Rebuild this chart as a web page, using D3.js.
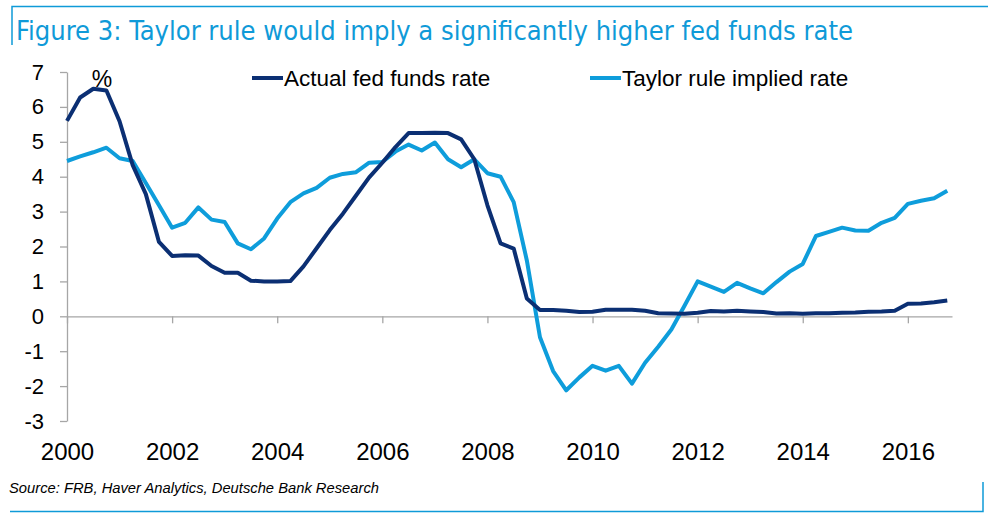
<!DOCTYPE html>
<html lang="en">
<head>
<meta charset="UTF-8">
<title>Taylor rule vs fed funds rate</title>
<script src="https://d3js.org/d3.v7.min.js"></script>
<style>
    body { margin: 0; background: #fff; }
    svg { display: block; font-family: "Liberation Sans", Arial, sans-serif; }
    .axis path, .axis line { stroke: #a6a6a6; stroke-width: 1.3px; }
    .axis text { fill: #000; }
    .line { fill: none; stroke-width: 4px; stroke-linejoin: round; }
</style>
</head>
<body>
<svg id="chart" width="988" height="523"></svg>
<script>
// quarterly observations, 2000Q1 .. 2016Q4
const quarters = d3.range(68).map(i => 2000 + i / 4);

const actualRate = [
    5.60, 6.27, 6.52, 6.47, 5.59, 4.33, 3.50, 2.13,
    1.73, 1.75, 1.74, 1.44, 1.25, 1.25, 1.02, 1.00,
    1.00, 1.01, 1.43, 1.95, 2.47, 2.94, 3.46, 3.98,
    4.40, 4.85, 5.25, 5.25, 5.26, 5.25, 5.07, 4.50,
    3.18, 2.09, 1.94, 0.51, 0.18, 0.18, 0.16, 0.12,
    0.13, 0.19, 0.19, 0.19, 0.16, 0.09, 0.08, 0.07,
    0.10, 0.15, 0.14, 0.16, 0.14, 0.12, 0.08, 0.09,
    0.07, 0.09, 0.09, 0.10, 0.11, 0.13, 0.14, 0.16,
    0.36, 0.37, 0.40, 0.45
];

const taylorRate = [
    4.45, 4.58, 4.70, 4.83, 4.53, 4.45, 3.82, 3.18,
    2.54, 2.68, 3.12, 2.77, 2.70, 2.09, 1.92, 2.23,
    2.80, 3.27, 3.52, 3.68, 3.97, 4.08, 4.13, 4.40,
    4.42, 4.72, 4.92, 4.75, 4.98, 4.50, 4.27, 4.50,
    4.10, 4.00, 3.27, 1.60, -0.60, -1.57, -2.12, -1.75,
    -1.42, -1.56, -1.42, -1.93, -1.33, -0.87, -0.38, 0.30,
    1.00, 0.85, 0.70, 0.96, 0.80, 0.66, 0.98, 1.28,
    1.50, 2.30, 2.42, 2.54, 2.46, 2.45, 2.68, 2.82,
    3.22, 3.31, 3.38, 3.60
];

const yearTicks = [2000, 2002, 2004, 2006, 2008, 2010, 2012, 2014, 2016];
const rateTicks = [-3, -2, -1, 0, 1, 2, 3, 4, 5, 6, 7];

const seriesNames = ["Actual fed funds rate", "Taylor rule implied rate"];
const titleText = "Figure 3: Taylor rule would imply a significantly higher fed funds rate";
const sourceText = "Source: FRB, Haver Analytics, Deutsche Bank Research";

const darkBlue = "#0b2f73";
const lightBlue = "#0e9ddb";
const frameBlue = "#0f9ad8";

let svg = d3.select("#chart");

let x = d3.scaleLinear().domain([2000, 2016.84]).range([67, 952]);
let y = d3.scaleLinear().domain([-3, 7]).range([421, 72]);

// frame
svg.append("path")
    .attr("d", "M12,45V6.5H988")
    .attr("fill", "none").attr("stroke", frameBlue).attr("stroke-width", 1.5);
svg.append("path")
    .attr("d", "M10,511.5H983V482")
    .attr("fill", "none").attr("stroke", frameBlue).attr("stroke-width", 1.5);

svg.append("text")
    .attr("x", 16).attr("y", 40)
    .attr("textLength", 837).attr("lengthAdjust", "spacingAndGlyphs")
    .style("font-family", "'Liberation Sans Narrow', 'DejaVu Sans Condensed', Arial, sans-serif")
    .style("font-size", "26px")
    .attr("fill", frameBlue)
    .text(titleText);

// y axis (plain hyphen for negatives, as in the original)
svg.append("g")
    .attr("class", "axis")
    .attr("transform", "translate(67,0)")
    .call(d3.axisLeft(y).tickValues(rateTicks).tickSize(7).tickSizeOuter(0).tickPadding(16)
        .tickFormat(d => String(d)))
    .call(g => g.selectAll("text").style("font-size", "22px"));

// x axis at zero
svg.append("g")
    .attr("class", "axis")
    .attr("transform", "translate(0," + y(0) + ")")
    .call(d3.axisBottom(x).tickValues(yearTicks).tickSize(7).tickSizeOuter(0).tickFormat(""));

// year labels beneath the plot
svg.append("g")
    .attr("class", "axis")
    .attr("transform", "translate(0," + y(-3) + ")")
    .call(d3.axisBottom(x).tickValues(yearTicks).tickSize(0).tickFormat(d3.format("d")).tickPadding(22))
    .call(g => g.select(".domain").remove())
    .call(g => g.selectAll("text").style("font-size", "24px"));

svg.append("text")
    .attr("x", 102).attr("y", 87)
    .attr("text-anchor", "middle")
    .style("font-size", "23px")
    .text("%");

// lines
let lineGen = d3.line()
    .x((d, i) => x(quarters[i]))
    .y(d => y(d));

svg.append("path").datum(taylorRate)
    .attr("class", "line").attr("stroke", lightBlue).attr("d", lineGen);
svg.append("path").datum(actualRate)
    .attr("class", "line").attr("stroke", darkBlue).attr("d", lineGen);

// legend
let legend = [
    {name: seriesNames[0], color: darkBlue, x: 252},
    {name: seriesNames[1], color: lightBlue, x: 590}
];
let lg = svg.selectAll(".legend").data(legend).enter().append("g").attr("class", "legend");
lg.append("line")
    .attr("x1", d => d.x).attr("x2", d => d.x + 31)
    .attr("y1", 78).attr("y2", 78)
    .attr("stroke", d => d.color).attr("stroke-width", 4);
lg.append("text")
    .attr("x", d => d.x + 32).attr("y", 86)
    .style("font-size", "22.5px")
    .text(d => d.name);

svg.append("text")
    .attr("x", 9).attr("y", 493)
    .attr("textLength", 370).attr("lengthAdjust", "spacingAndGlyphs")
    .style("font-size", "14px").style("font-style", "italic")
    .text(sourceText);
</script>
</body>
</html>
